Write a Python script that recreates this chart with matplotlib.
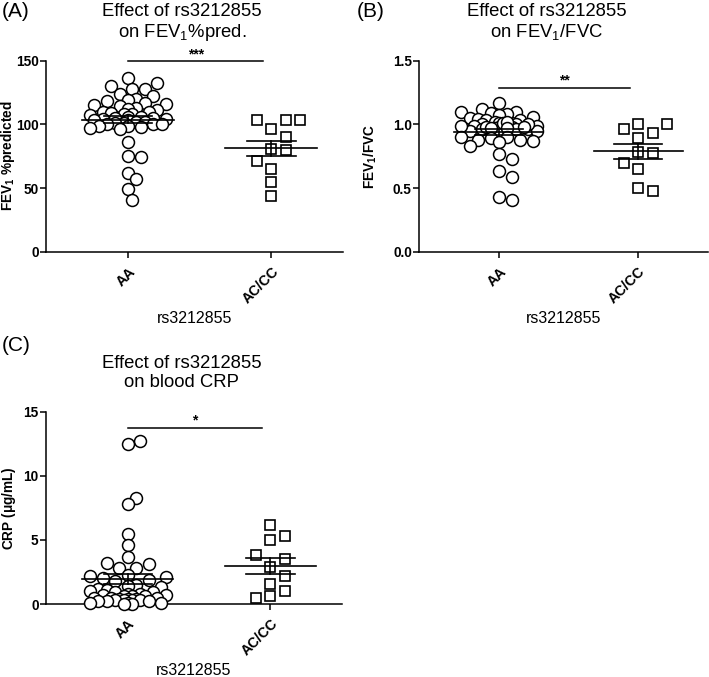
import numpy as np
import matplotlib
matplotlib.use('Agg')
import matplotlib.pyplot as plt

plt.rcParams['font.family'] = ['Liberation Sans', 'DejaVu Sans']
plt.rcParams['mathtext.fontset'] = 'custom'
plt.rcParams['mathtext.rm'] = 'Liberation Sans'
plt.rcParams['mathtext.bf'] = 'Liberation Sans:bold'
plt.rcParams['axes.linewidth'] = 1.1

groups = ['AA', 'AC/CC']

# panel A: FEV1 % predicted
fev_aa = [136, 132, 130, 128, 128, 124, 122, 120, 119, 118,
          117, 116, 115, 114, 113, 112, 111, 110, 110, 109,
          108, 108, 107, 106, 106, 105, 105, 104, 104, 103,
          103, 102, 102, 101, 101, 100, 100, 100, 99, 99,
          98, 97, 96, 86, 75, 74, 62, 57, 49, 41]
fev_ac = [103.5, 103.5, 103.5, 96, 90, 80, 80.5, 71, 65, 55, 43.5]

# panel B: FEV1/FVC
ratio_aa = [1.17, 1.12, 1.10, 1.10, 1.09, 1.08, 1.07, 1.06, 1.05, 1.04,
            1.03, 1.03, 1.02, 1.01, 1.00, 1.00, 0.99, 0.99, 0.98, 0.98,
            0.97, 0.97, 0.96, 0.96, 0.96, 0.95, 0.95, 0.95, 1.01, 1.02,
            0.99, 1.00, 0.98, 0.98, 0.97, 0.97, 0.90, 0.90, 0.89, 0.88,
            0.88, 0.87, 0.86, 0.83, 0.77, 0.73, 0.63, 0.59, 0.43, 0.41]
ratio_ac = [1.00, 1.00, 0.965, 0.93, 0.89, 0.775, 0.78, 0.70, 0.65, 0.48, 0.50]

# panel C: blood CRP
crp_aa = [12.7, 12.5, 8.3, 7.8, 5.5, 4.6, 3.7, 3.2, 3.1, 2.8, 2.8,
          2.3, 2.2, 2.1, 2.0, 1.9, 1.8, 1.5, 1.4, 1.3, 1.2, 1.1, 1.0,
          0.9, 0.9, 0.8, 0.8, 0.7, 0.7, 0.6, 0.6, 0.6, 0.5, 0.5, 0.5,
          0.4, 0.4, 0.4, 0.3, 0.3, 0.3, 0.3, 0.2, 0.2, 0.2, 0.1, 0.1,
          0.1, 0.0, 0.0]
crp_ac = [6.2, 5.3, 5.0, 3.8, 3.55, 2.9, 2.2, 1.6, 1.05, 0.5, 0.6]

TICK_FONT = ['Liberation Sans Narrow', 'Liberation Sans']


def swarm(ax, values, center, mind, step, maxw):
    """greedy beeswarm in pixel space, returns x positions in data units"""
    v = np.asarray(values, float)
    t = ax.transData
    ypx = t.transform(np.column_stack([np.zeros(len(v)), v]))[:, 1]
    xppu = t.transform([[1, 0]])[0, 0] - t.transform([[0, 0]])[0, 0]
    cands = [0.0]
    k = 1
    while k * step <= maxw:
        cands += [k * step, -k * step]
        k += 1
    med = np.median(ypx)
    order = np.argsort(np.abs(ypx - med), kind='stable')
    px, py = [], []
    off = np.zeros(len(v))
    for i in order:
        best, bestd, fallback = None, -1, 0.0
        for c in cands:
            if px:
                d = np.min(np.hypot(np.array(px) - c, np.array(py) - ypx[i]))
            else:
                d = 1e9
            if d >= mind:
                best = c
                break
            if d > bestd + 2:
                bestd, fallback = d, c
        if best is None:
            best = fallback
        off[i] = best
        px.append(best)
        py.append(ypx[i])
    return center + off / xppu


def mean_sem(ax, values, center):
    v = np.asarray(values, float)
    m = v.mean()
    s = v.std(ddof=1) / np.sqrt(len(v))
    ax.plot([center - 0.32, center + 0.32], [m, m], color='black', lw=1.2, zorder=4)
    ax.plot([center - 0.17, center + 0.17], [m + s, m + s], color='black', lw=1.2, zorder=4)
    ax.plot([center - 0.17, center + 0.17], [m - s, m - s], color='black', lw=1.2, zorder=4)
    ax.plot([center, center], [m - s, m + s], color='black', lw=1.2, zorder=4)


def panel(rect, aa, ac, ymax, yticks, yticklabels, ylabel, ylab_x, title,
          title_pos, letter, letter_pos, star, bar_y):
    ax = fig.add_axes(rect)
    ax.set_xlim(-0.575, 1.5)
    ax.set_ylim(0, ymax)
    ax.spines['top'].set_visible(False)
    ax.spines['right'].set_visible(False)
    ax.set_yticks(yticks)
    ax.set_yticklabels(yticklabels, fontsize=9.8, fontweight='bold', family=TICK_FONT)
    ax.set_xticks([0, 1])
    ax.set_xticklabels(groups, rotation=45, ha='right', va='top',
                       rotation_mode='anchor', fontsize=10.3, fontweight='bold')
    ax.tick_params(length=4.2, width=1.1, pad=1)
    ax.tick_params(axis='x', pad=5)
    ax.set_ylabel(ylabel, fontsize=9.8, fontweight='bold')
    ax.yaxis.set_label_coords(ylab_x, 0.5)
    ax.set_xlabel('rs3212855', fontsize=11.5, labelpad=3)

    xa = swarm(ax, aa, 0, 10.5, 4.2, 41)
    ax.plot(xa, aa, 'o', ms=8.6, mfc='white', mec='black', mew=1.1,
            ls='none', clip_on=False, zorder=3)
    xc = swarm(ax, ac, 1, 12.5, 14.5, 30)
    ax.plot(xc, ac, 's', ms=6.6, mfc='white', mec='black', mew=1.2,
            ls='none', clip_on=False, zorder=3)
    mean_sem(ax, aa, 0)
    mean_sem(ax, ac, 1)

    ax.plot([0, 0.944], [bar_y, bar_y], color='black', lw=1.1, clip_on=False)
    ax.text(0.472, bar_y, star, ha='center', va='bottom',
            fontsize=10, fontweight='bold')

    fig.text(title_pos[0], title_pos[1], title, ha='center', va='top',
             fontsize=13.3, linespacing=1.1)
    fig.text(letter_pos[0], letter_pos[1], letter, ha='left', va='top', fontsize=15)
    return ax


fig = plt.figure(figsize=(7.09, 6.77), dpi=100)

panel([0.0645, 0.628, 0.419, 0.2826], fev_aa, fev_ac, 150,
      [0, 50, 100, 150], ['0', '50', '100', '150'],
      r'FEV$_\mathbf{1}$ %predicted', -0.096,
      'Effect of rs3212855\non FEV$_1$%pred.', (0.2567, 0.995),
      '(A)', (0.003, 0.997), '***', 149.5)

panel([0.591, 0.628, 0.407, 0.2826], ratio_aa, ratio_ac, 1.5,
      [0, 0.5, 1.0, 1.5], ['0.0', '0.5', '1.0', '1.5'],
      r'FEV$_\mathbf{1}$/FVC', -0.14,
      'Effect of rs3212855\non FEV$_1$/FVC', (0.771, 0.995),
      '(B)', (0.503, 0.997), '**', 1.286)

panel([0.0645, 0.1078, 0.4175, 0.284], crp_aa, crp_ac, 15,
      [0, 5, 10, 15], ['0', '5', '10', '15'],
      r'CRP ($\mathbf{\mu}$g/mL)', -0.093,
      'Effect of rs3212855\non blood CRP', (0.256, 0.475),
      '(C)', (0.003, 0.503), '*', 13.75)

fig.savefig('out.png', dpi=100)
